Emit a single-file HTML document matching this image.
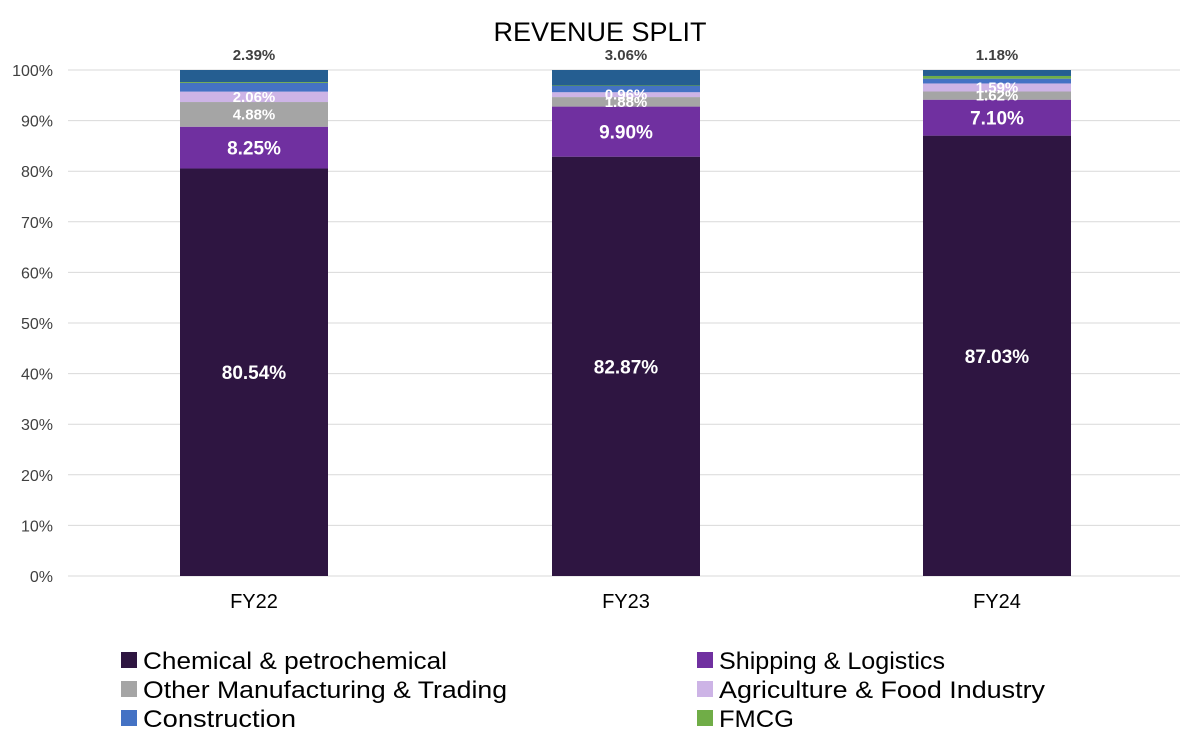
<!DOCTYPE html>
<html><head><meta charset="utf-8"><style>
html,body{margin:0;padding:0;background:#fff;}
svg{display:block;font-family:"Liberation Sans",sans-serif;}
</style></head><body>
<svg id="chart" width="1200" height="742" viewBox="0 0 1200 742" xmlns="http://www.w3.org/2000/svg">
<rect width="1200" height="742" fill="#fff"/>
<text x="600" y="41" text-anchor="middle" font-size="27" fill="#000">REVENUE SPLIT</text>
<g id="grid"></g><g id="bars"></g><g id="labels"></g><g id="legend"></g>
</svg>
<script>
const categories = ["FY22","FY23","FY24"];
const seriesNames = ["Chemical & petrochemical","Shipping & Logistics","Other Manufacturing & Trading","Agriculture & Food Industry","Construction","FMCG","Others"];
const chem = [80.54, 82.87, 87.03];
const shipping = [8.25, 9.90, 7.10];
const otherMfg = [4.88, 1.88, 1.62];
const agri = [2.06, 0.96, 1.59];
const construction = [1.70, 1.23, 0.95];
const fmcg = [0.18, 0.10, 0.53];
const others = [2.39, 3.06, 1.18];
const yTicks = [0,10,20,30,40,50,60,70,80,90,100];

const colors = ["#2e1541","#7030a0","#a5a5a5","#cdb4e6","#4472c4","#70ad47","#255e91"];
const series = [chem, shipping, otherMfg, agri, construction, fmcg, others];
const slugs = ["chemical","shipping","other-mfg","agriculture","construction","fmcg","others"];
const NS = "http://www.w3.org/2000/svg";
const y0 = 576, y100 = 70;
const y = v => y0 - (v/100)*(y0-y100);
const barCenters = [254, 626, 997];
const x = i => barCenters[i];
const barW = 148;
function mk(tag, attrs, parent, txt){
  const e = document.createElementNS(NS, tag);
  for (const k in attrs) e.setAttribute(k, attrs[k]);
  if (txt !== undefined) e.textContent = txt;
  parent.appendChild(e); return e;
}
const grid = document.getElementById('grid');
yTicks.forEach(t => {
  const l = mk('line', {x1:68, x2:1180, y1:y(t), y2:y(t), stroke:'#d9d9d9', 'stroke-width':1}, grid);
  
  
  const tx = mk('text', {x:53, y:y(t)+6, 'text-anchor':'end', 'font-size':16, fill:'#404040'}, grid, t + '%');
  
  
});
const bars = document.getElementById('bars');
const labels = document.getElementById('labels');
categories.forEach((c, i) => {
  let cum = 0;
  series.forEach((s, k) => {
    const v = s[i];
    const top = y(cum + v), bot = y(cum);
    const r = mk('rect', {x:x(i)-barW/2, y:top, width:barW, height:bot-top, fill:colors[k]}, bars);
    
    
    const mid = (top + bot)/2;
    let lbl = null;
    if (k === 0) lbl = mk('text', {x:x(i), y:mid+7, 'text-anchor':'middle', 'font-size':19, 'font-weight':'bold', fill:'#fff'}, labels, v.toFixed(2)+'%');
    else if (k === 1) lbl = mk('text', {x:x(i), y:mid+7, 'text-anchor':'middle', 'font-size':19, 'font-weight':'bold', fill:'#fff'}, labels, v.toFixed(2)+'%');
    else if (k === 2 || k === 3) lbl = mk('text', {x:x(i), y:mid+5, 'text-anchor':'middle', 'font-size':15, 'font-weight':'bold', fill:'#fff'}, labels, v.toFixed(2)+'%');
    else if (k === 6) lbl = mk('text', {x:x(i), y:y100-10, 'text-anchor':'middle', 'font-size':15, 'font-weight':'bold', fill:'#404040'}, labels, v.toFixed(2)+'%');
    if (lbl) {
      
      
    }
    cum += v;
  });
  const xl = mk('text', {x:x(i), y:608, 'text-anchor':'middle', 'font-size':20, fill:'#000'}, labels, c);
  
  
});
const legend = document.getElementById('legend');
const legPos = [[121,660],[697,660],[121,689],[697,689],[121,718],[697,718]];
const legW = [304, 226, 364, 326, 153, 75];
for (let k = 0; k < 6; k++) {
  const [lx, ly] = legPos[k];
  const g = mk('g', {}, legend);
  
  
  mk('rect', {x:lx, y:ly-8, width:16, height:16, fill:colors[k]}, g);
  mk('text', {x:lx+22, y:ly+9, 'font-size':24, fill:'#000', textLength:legW[k], lengthAdjust:'spacingAndGlyphs'}, g, seriesNames[k]);
}
</script>
</body></html>
